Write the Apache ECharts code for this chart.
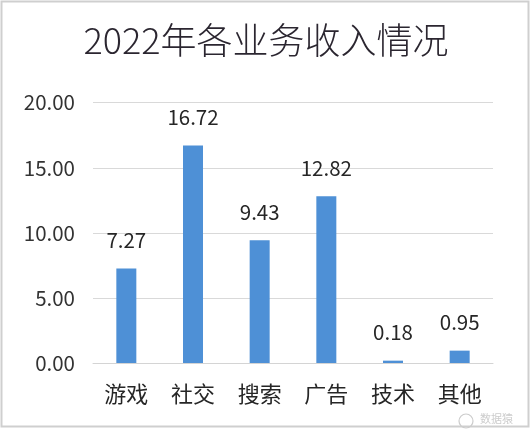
<!DOCTYPE html>
<html>
<head>
<meta charset="utf-8">
<script src="https://cdn.jsdelivr.net/npm/echarts@6/dist/echarts.min.js"></script>
<style>
html,body{margin:0;padding:0;background:#fff;}
#c{width:532px;height:430px;}
</style>
</head>
<body>
<div id="c"></div>
<script>
const titleText = '2022年各业务收入情况';
const categories = ['游戏', '社交', '搜索', '广告', '技术', '其他'];
const revenue = [7.27, 16.72, 9.43, 12.82, 0.18, 0.95];
const yTicks = { min: 0, max: 20, interval: 5 };
const watermark = '数据猿';

const font = '"Noto Sans CJK SC", "Noto Sans", sans-serif';
const chart = echarts.init(document.getElementById('c'), null, { renderer: 'canvas' });
chart.setOption({
  backgroundColor: '#ffffff',
  animation: false,
  title: {
    text: titleText,
    left: 'center',
    top: 17,
    textStyle: { fontFamily: font, fontSize: 36, fontWeight: 300, color: '#2b2630' }
  },
  grid: { left: 93, right: 39, top: 102.7, bottom: 67 },
  xAxis: {
    type: 'category',
    data: categories,
    axisLine: { show: true, lineStyle: { color: '#d4d4d4', width: 1 } },
    axisTick: { show: false },
    axisLabel: { fontFamily: font, fontSize: 22, color: '#262626', margin: 20 }
  },
  yAxis: {
    type: 'value',
    min: yTicks.min,
    max: yTicks.max,
    interval: yTicks.interval,
    axisLine: { show: false },
    axisTick: { show: false },
    splitLine: { lineStyle: { color: '#d9d9d9', width: 1 } },
    axisLabel: {
      fontFamily: font, fontSize: 20.5, color: '#333333', margin: 18,
      formatter: v => v.toFixed(2)
    }
  },
  series: [{
    type: 'bar',
    data: revenue,
    barWidth: 20,
    itemStyle: { color: '#4e90d6' },
    label: {
      show: true,
      position: 'top',
      distance: 18,
      fontFamily: font,
      fontSize: 20.5,
      color: '#262626',
      formatter: p => p.value.toFixed(2)
    }
  }],
  graphic: [
    {
      type: 'rect',
      shape: { x: 1.5, y: 1.5, width: 527, height: 425 },
      style: { fill: 'none', stroke: '#cfcfcf', lineWidth: 2 },
      silent: true
    },
    {
      type: 'circle',
      shape: { cx: 466, cy: 421, r: 7 },
      style: { fill: 'none', stroke: '#cccccc', lineWidth: 1.2 },
      silent: true
    },
    {
      type: 'text',
      left: 480,
      top: 413,
      style: { text: watermark, fontFamily: font, fontSize: 11, fill: '#cccccc' },
      silent: true
    }
  ]
});
</script>
</body>
</html>
